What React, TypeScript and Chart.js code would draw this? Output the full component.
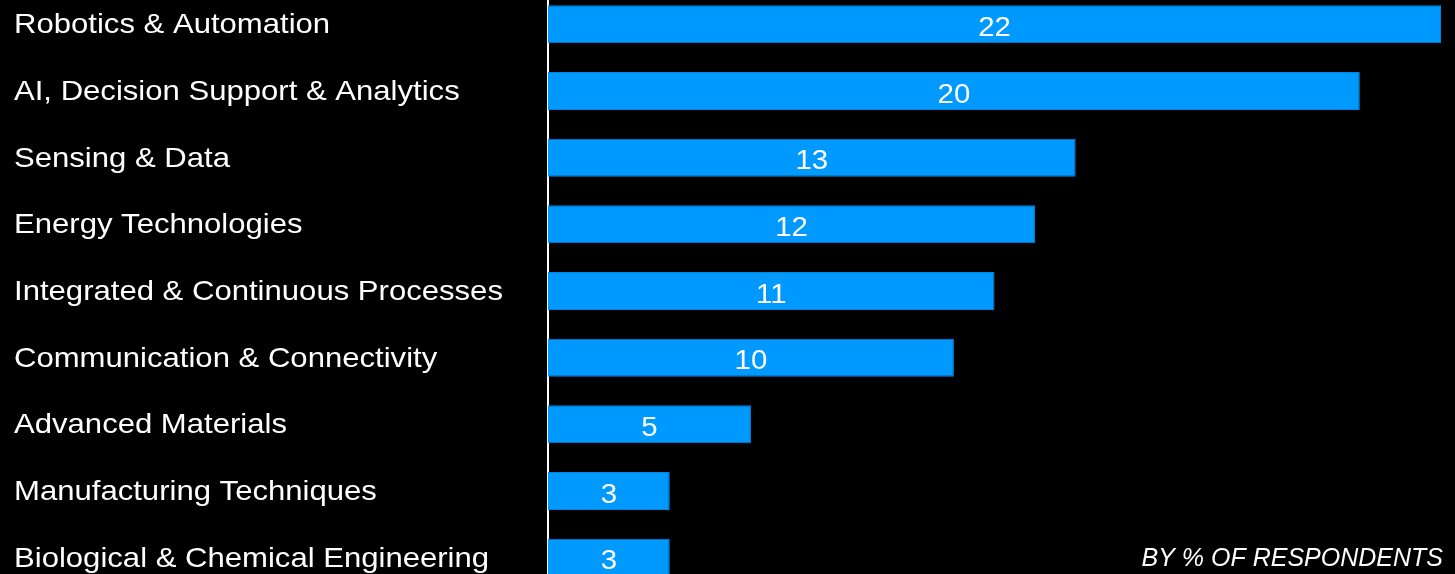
import React, { useEffect, useRef } from "react";
import { Chart, registerables } from "chart.js";

Chart.register(...registerables);

const categories: string[] = [
  "Robotics & Automation",
  "AI, Decision Support & Analytics",
  "Sensing & Data",
  "Energy Technologies",
  "Integrated & Continuous Processes",
  "Communication & Connectivity",
  "Advanced Materials",
  "Manufacturing Techniques",
  "Biological & Chemical Engineering",
];
const values: number[] = [22, 20, 13, 12, 11, 10, 5, 3, 3];
const noteText = "BY % OF RESPONDENTS";

const FONT = "'Liberation Sans', Arial, sans-serif";
const TOP_OFFSET = -9;
const H_STRETCH = 1.11;

export default function App() {
  const ref = useRef<HTMLCanvasElement | null>(null);
  useEffect(() => {
    document.body.style.margin = "0";
    document.body.style.background = "#000";
    const canvas = ref.current!;
    const labelPlugin = {
      id: "labels",
      afterDraw(chart: any) {
        const ctx = chart.ctx;
        const yScale = chart.scales.y;
        const meta = chart.getDatasetMeta(0);
        // category labels
        ctx.save();
        ctx.fillStyle = "#ffffff";
        ctx.font = `28px ${FONT}`;
        ctx.textAlign = "left";
        ctx.textBaseline = "alphabetic";
        categories.forEach((c, i) => {
          const y = yScale.getPixelForValue(i);
          ctx.save();
          ctx.translate(14, y + 9);
          ctx.scale(H_STRETCH, 1);
          ctx.fillText(c, 0, 0);
          ctx.restore();
        });
        ctx.restore();
        // value labels
        ctx.save();
        ctx.fillStyle = "#ffffff";
        ctx.font = `28px ${FONT}`;
        ctx.textAlign = "center";
        ctx.textBaseline = "alphabetic";
        meta.data.forEach((bar: any, i: number) => {
          const cx = (bar.base + bar.x) / 2;
          ctx.save();
          ctx.translate(cx, bar.y + 11.5);
          ctx.scale(1.05, 1);
          ctx.fillText(String(values[i]), 0, 0);
          ctx.restore();
        });
        ctx.restore();
        // note
        ctx.save();
        ctx.fillStyle = "#ffffff";
        ctx.font = `italic 25px ${FONT}`;
        ctx.textAlign = "right";
        ctx.textBaseline = "alphabetic";
        ctx.fillText(noteText, 1443, 566 - TOP_OFFSET);
        ctx.restore();
      },
    };
    const chart = new Chart(canvas, {
      type: "bar",
      data: {
        labels: categories,
        datasets: [
          {
            data: values,
            backgroundColor: "#0099FF",
            borderColor: "#0085E0",
            borderWidth: 1,
            barPercentage: 0.57,
            categoryPercentage: 1,
          },
        ],
      },
      options: {
        indexAxis: "y",
        animation: false,
        responsive: false,
        maintainAspectRatio: false,
        layout: { padding: { left: 14, right: 14, top: 0, bottom: 0 } },
        plugins: {
          legend: { display: false },
          tooltip: { enabled: false },
        },
        scales: {
          x: {
            display: false,
            min: 0,
            max: 22,
          },
          y: {
            afterFit(scale: any) {
              scale.width = 534;
            },
            grid: { display: false, drawOnChartArea: false },
            border: { display: true, color: "#ffffff", width: 2 },
            ticks: { display: false },
          },
        },
      },
      plugins: [labelPlugin],
    });
    return () => chart.destroy();
  }, []);
  return (
    <div
      style={{
        position: "fixed",
        left: 0,
        top: TOP_OFFSET,
        width: 1455,
        height: 600,
        background: "#000",
      }}
    >
      <canvas ref={ref} width={1455} height={600} style={{ display: "block" }} />
    </div>
  );
}
